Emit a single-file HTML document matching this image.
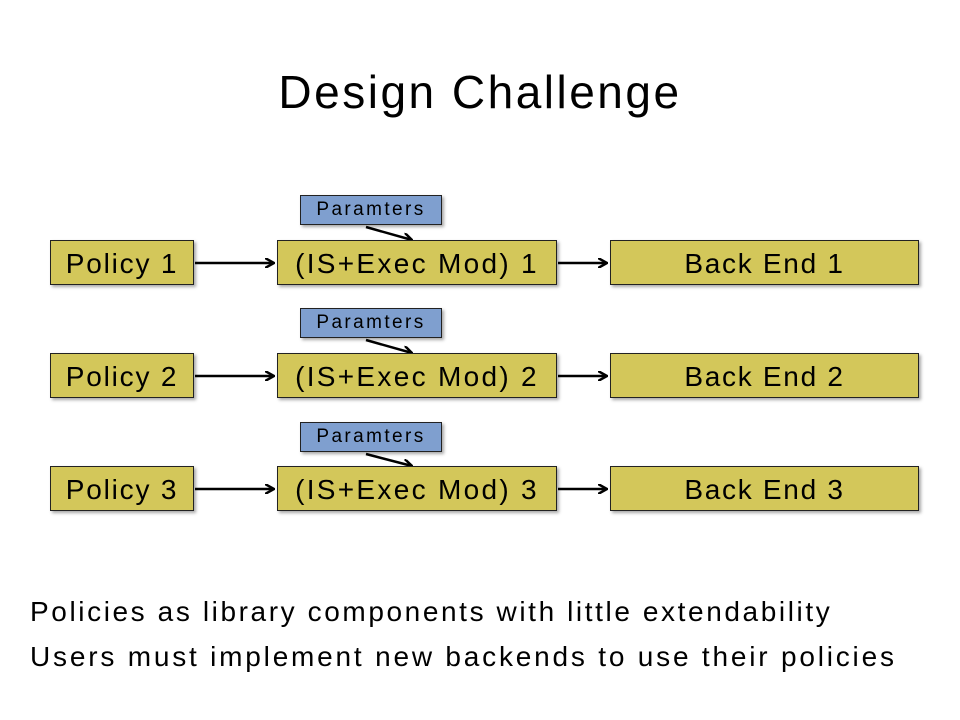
<!DOCTYPE html><html><head><style>
body{margin:0;width:960px;height:720px;background:#fff;position:relative;font-family:"Liberation Sans",sans-serif;overflow:hidden}
.b{position:absolute;background:#d3c75a;border:1px solid #222;box-sizing:border-box;text-align:center;font-size:28px;color:#000;box-shadow:2px 2px 3px rgba(0,0,0,.35);white-space:nowrap}
.p{position:absolute;background:#7f9fcf;border:1px solid #222;box-sizing:border-box;text-align:center;font-size:19px;letter-spacing:2.4px;box-shadow:2px 2px 3px rgba(0,0,0,.35)}
.t{position:absolute;white-space:nowrap}
</style></head><body>
<div class="t" style="left:0;width:960px;text-align:center;top:65px;font-size:46px;letter-spacing:2.5px">Design Challenge</div>
<svg width="960" height="720" style="position:absolute;left:0;top:0">
<defs><marker id="a" markerWidth="10" markerHeight="10" refX="9" refY="5" orient="auto" markerUnits="userSpaceOnUse"><path d="M0,0 L9,5 L0,10" fill="none" stroke="#000" stroke-width="2.5"/></marker></defs>
<g stroke="#000" stroke-width="2.5" marker-end="url(#a)">
<line x1="195" y1="263" x2="274" y2="263"/><line x1="558" y1="263" x2="607" y2="263"/><line x1="366" y1="227" x2="412" y2="240"/>
<line x1="195" y1="376" x2="274" y2="376"/><line x1="558" y1="376" x2="607" y2="376"/><line x1="366" y1="340" x2="412" y2="353"/>
<line x1="195" y1="489" x2="274" y2="489"/><line x1="558" y1="489" x2="607" y2="489"/><line x1="366" y1="454" x2="412" y2="466"/>
</g></svg>
<div class="p" style="left:300px;top:195px;width:142px;height:30px;line-height:28px">Paramters</div>
<div class="p" style="left:300px;top:308px;width:142px;height:30px;line-height:28px">Paramters</div>
<div class="p" style="left:300px;top:422px;width:142px;height:30px;line-height:28px">Paramters</div>
<div class="b" style="left:50px;top:240px;width:144px;height:45px;line-height:45px;letter-spacing:1.8px">Policy 1</div>
<div class="b" style="left:277px;top:240px;width:280px;height:45px;line-height:45px;letter-spacing:2.3px">(IS+Exec Mod) 1</div>
<div class="b" style="left:610px;top:240px;width:309px;height:45px;line-height:45px;letter-spacing:1.7px">Back End 1</div>
<div class="b" style="left:50px;top:353px;width:144px;height:45px;line-height:45px;letter-spacing:1.8px">Policy 2</div>
<div class="b" style="left:277px;top:353px;width:280px;height:45px;line-height:45px;letter-spacing:2.3px">(IS+Exec Mod) 2</div>
<div class="b" style="left:610px;top:353px;width:309px;height:45px;line-height:45px;letter-spacing:1.7px">Back End 2</div>
<div class="b" style="left:50px;top:466px;width:144px;height:45px;line-height:45px;letter-spacing:1.8px">Policy 3</div>
<div class="b" style="left:277px;top:466px;width:280px;height:45px;line-height:45px;letter-spacing:2.3px">(IS+Exec Mod) 3</div>
<div class="b" style="left:610px;top:466px;width:309px;height:45px;line-height:45px;letter-spacing:1.7px">Back End 3</div>
<div class="t" style="left:30px;top:596px;font-size:28px;letter-spacing:2.6px">Policies as library components with little extendability</div>
<div class="t" style="left:30px;top:641px;font-size:28px;letter-spacing:2.8px">Users must implement new backends to use their policies</div>
</body></html>
